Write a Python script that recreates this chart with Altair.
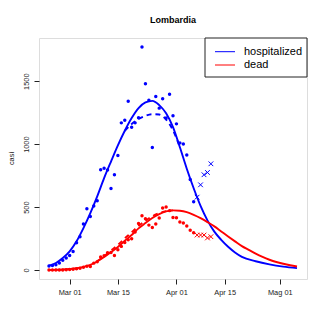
import altair as alt
import pandas as pd

# ---- data (day offsets from Mar 01 2020) ----
tick_days = [0, 14, 31, 45, 61]
tick_labels = ["Mar 01", "Mar 15", "Apr 01", "Apr 15", "Mag 01"]
y_ticks = [0, 500, 1000, 1500]

blue_dot_days = list(range(-6, 37))
blue_dot_vals = [32, 37, 42, 56, 77, 95, 116, 148, 217, 265, 365, 487, 426, 508, 550,
                 796, 809, 794, 648, 757, 910, 1169, 1190, 1341, 1135, 1169, 1209,
                 1772, 1479, 1349, 974, 1378, 1286, 1360, 1207, 1397, 1225, 1161, 1010,
                 1002, 913, 720, 542]
blue_x_days = [37, 38, 39, 40, 41]
blue_x_vals = [579, 677, 757, 775, 844]

red_dot_days = list(range(-6, 37))
red_dot_vals = [0, 0, 0, 0, 1, 2, 4, 6, 10, 15, 22, 30, 29, 55, 66, 103, 113, 137, 140,
                116, 161, 188, 219, 241, 248, 302, 370, 431, 408, 357, 338, 365, 413,
                493, 500, 472, 418, 415, 381, 373, 350, 316, 297]
red_x_days = [37, 38, 39, 40, 41]
red_x_vals = [278, 278, 278, 255, 265]

blue_fit_days = [-6, -4, -2, 0, 2, 4, 6, 8, 10, 12, 14, 16, 18, 20, 22, 24, 26, 28, 30,
                 32, 34, 36, 38, 40, 42, 44, 46, 48, 50, 54, 58, 62, 66]
blue_fit_vals = [35, 56, 95, 148, 228, 333, 452, 585, 730, 862, 990, 1106, 1207, 1286,
                 1331, 1344, 1310, 1245, 1135, 975, 805, 650, 510, 395, 305, 240, 185,
                 140, 105, 70, 45, 27, 15]
blue_fit2_days = [16, 18, 20, 22, 24, 26, 28, 30, 32]
blue_fit2_vals = [1106, 1160, 1200, 1225, 1238, 1235, 1195, 1110, 975]

red_fit_days = [-6, -4, -2, 0, 2, 4, 6, 8, 10, 12, 14, 16, 18, 20, 22, 24, 26, 28, 30,
                32, 34, 36, 38, 40, 42, 44, 46, 48, 50, 52, 54, 56, 58, 60, 62, 64, 66]
red_fit_vals = [1, 2, 4, 8, 14, 25, 42, 68, 103, 143, 183, 233, 278, 331, 373, 413, 444,
                466, 474, 471, 460, 439, 413, 381, 347, 307, 267, 228, 190, 160, 130,
                104, 82, 64, 50, 38, 28]
red_fit2_days = [8, 10, 12, 14, 16, 18, 20, 22, 24, 26, 28, 30]
red_fit2_vals = [72, 110, 155, 200, 252, 300, 350, 392, 428, 452, 468, 474]

legend_labels = ["hospitalized", "dead"]
legend_colors = ["#0000FF", "#FF0000"]

BLUE, RED = "#0000FF", "#FF0000"
FONT = "Liberation Sans"

# ---- scales ----
label_expr = " : ".join(
    f"datum.value == {d} ? '{l}'" for d, l in zip(tick_days, tick_labels)) + " : ''"
x_enc = alt.X("day:Q", scale=alt.Scale(domain=[-8.9, 68.9], nice=False, zero=False),
              axis=alt.Axis(values=tick_days, labelExpr=label_expr, title=None,
                            grid=False, domain=False, tickSize=5, tickColor="#222",
                            labelFont=FONT, labelFontSize=7.4, labelColor="#222",
                            labelPadding=4))
y_enc = alt.Y("v:Q", scale=alt.Scale(domain=[-71, 1843], nice=False, zero=False),
              axis=alt.Axis(values=y_ticks, format="d", title="casi", grid=False,
                            domain=False, tickSize=5, tickColor="#222", labelFont=FONT,
                            labelFontSize=7.4, labelColor="#222", labelAngle=270,
                            labelAlign="center", labelBaseline="bottom",
                            labelPadding=4, titleFont=FONT, titleFontSize=7.4,
                            titleFontWeight="normal", titleColor="#222",
                            titleX=-28, titleY=120, titleBaseline="middle",
                            titleAngle=270))


def df(days, vals):
    return pd.DataFrame({"day": days, "v": vals})


def line(days, vals, color, dash=None):
    kw = dict(color=color, strokeWidth=1.9, interpolate="monotone")
    if dash:
        kw["strokeDash"] = dash
    return alt.Chart(df(days, vals)).mark_line(**kw).encode(x=x_enc, y=y_enc)


def dots(days, vals, color):
    return alt.Chart(df(days, vals)).mark_circle(color=color, size=12, opacity=1).encode(
        x=x_enc, y=y_enc)


XPATH = "M-1,-1L1,1M1,-1L-1,1"


def crosses(days, vals, color):
    return alt.Chart(df(days, vals)).mark_point(
        shape=XPATH, color=color, size=22, strokeWidth=1, filled=False, opacity=1
    ).encode(x=x_enc, y=y_enc)


one = pd.DataFrame({"a": [0]})
leg_box = alt.Chart(one).mark_rect(
    fill="white", stroke="#222", strokeWidth=1).encode(
    x=alt.value(166), x2=alt.value(268), y=alt.value(0), y2=alt.value(39))

legend_layers = []
for i, (lab, col) in enumerate(zip(legend_labels, legend_colors)):
    yy = 13.7 + i * 13.3
    legend_layers.append(alt.Chart(one).mark_rule(strokeWidth=1, color=col).encode(
        x=alt.value(176), x2=alt.value(196), y=alt.value(yy)))
    legend_layers.append(alt.Chart(one).mark_text(
        align="left", baseline="middle", font=FONT, fontSize=11, color="black",
        text=lab).encode(x=alt.value(205), y=alt.value(yy)))

chart = alt.layer(
    line(blue_fit_days, blue_fit_vals, BLUE),
    line(blue_fit2_days, blue_fit2_vals, BLUE, [5, 4]),
    line(red_fit_days, red_fit_vals, RED),
    line(red_fit2_days, red_fit2_vals, RED, [5, 4]),
    dots(blue_dot_days, blue_dot_vals, BLUE),
    crosses(blue_x_days, blue_x_vals, BLUE),
    dots(red_dot_days, red_dot_vals, RED),
    crosses(red_x_days, red_x_vals, RED),
    leg_box, *legend_layers,
).properties(
    width=268, height=241,
    title=alt.TitleParams("Lombardia", font=FONT, fontSize=9, fontWeight="bold",
                          anchor="middle", frame="group", offset=13, color="black"),
    padding={"left": 31, "top": 30, "right": 12, "bottom": 40},
    autosize=alt.AutoSizeParams(type="none"),
).configure_view(stroke="#222", strokeWidth=1).configure(background="white")

chart.save("out.html", embed_options={"renderer": "svg", "actions": False})
